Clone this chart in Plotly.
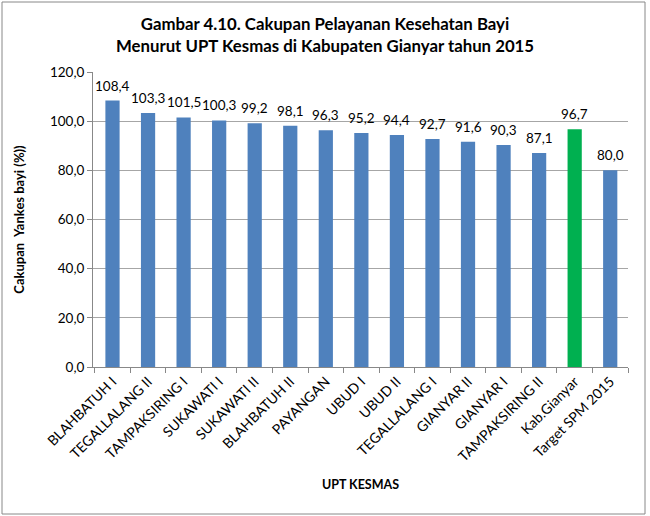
import plotly.graph_objects as go

categories = ["BLAHBATUH I", "TEGALLALANG II", "TAMPAKSIRING I", "SUKAWATI I", "SUKAWATI II",
              "BLAHBATUH II", "PAYANGAN", "UBUD I", "UBUD II", "TEGALLALANG I", "GIANYAR II",
              "GIANYAR I", "TAMPAKSIRING II", "Kab.Gianyar", "Target SPM 2015"]
values = [108.4, 103.3, 101.5, 100.3, 99.2, 98.1, 96.3, 95.2, 94.4, 92.7, 91.6, 90.3, 87.1, 96.7, 80.0]
colors = ["#4F81BD"] * 13 + ["#00B050", "#4F81BD"]

FONT = "Lato, Open Sans, sans-serif"

fig = go.Figure(go.Bar(
    x=categories, y=values, marker=dict(color=colors, line=dict(width=0)),
))

for c, v in zip(categories, values):
    fig.add_annotation(x=c, y=v, text=f"{v:.1f}".replace(".", ","), showarrow=False,
                       yanchor="bottom", yshift=5, font=dict(family=FONT, size=13.5, color="#000000"))

L, R, T, B = 93, 22, 72, 149
W, H = 650, 516
pw, ph = W - L - R, H - T - B

fig.update_layout(
    width=W, height=H, margin=dict(l=L, r=R, t=T, b=B),
    paper_bgcolor="white", plot_bgcolor="white",
    separators=",.", bargap=0.6, showlegend=False,
    font=dict(family=FONT, color="#000000"),
    title=dict(text="<b>Gambar 4.10. Cakupan Pelayanan Kesehatan Bayi<br>Menurut UPT Kesmas di Kabupaten Gianyar tahun 2015</b>",
               x=0.5, xanchor="center", yref="container", y=0.942, yanchor="middle", font=dict(family=FONT, size=16.8)),
    xaxis=dict(tickangle=-45, tickfont=dict(family=FONT, size=14), showline=True, linecolor="#888888",
               ticks="outside", tickson="boundaries", ticklen=5, tickcolor="#888888",
               title=dict(text="<b>UPT KESMAS</b>", font=dict(family=FONT, size=12.5), standoff=16)),
    yaxis=dict(range=[0, 120], dtick=20, tickformat=".1f", showgrid=True, gridcolor="#A6A6A6",
               showline=True, linecolor="#888888", ticks="outside", ticklen=5, tickcolor="#888888",
               tickfont=dict(family=FONT, size=13.5), zeroline=False,
               title=dict(text="<b>Cakupan  Yankes bayi (%))</b>", font=dict(family=FONT, size=13), standoff=22)),
    shapes=[dict(type="rect", xref="paper", yref="paper",
                 x0=(2 - L) / pw, x1=(645 - L) / pw, y0=(H - B - 514) / ph, y1=(H - B - 2) / ph,
                 line=dict(color="#888888", width=1), fillcolor="rgba(0,0,0,0)", layer="below")],
)

fig.write_html("out.html")
